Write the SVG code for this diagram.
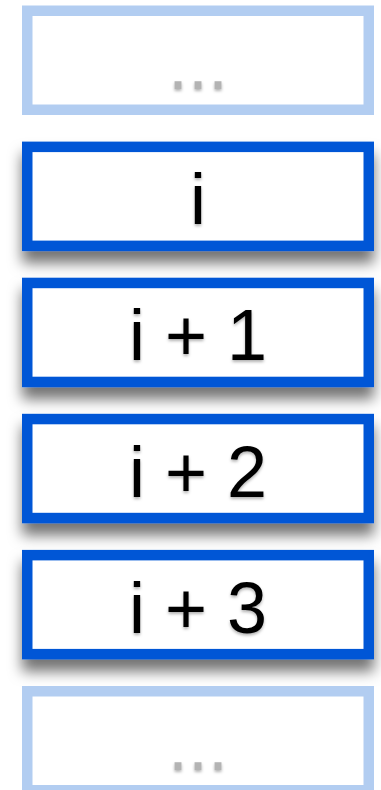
<svg xmlns="http://www.w3.org/2000/svg" width="381" height="790" viewBox="0 0 381 790">
  <defs>
    <filter id="boxShadow" x="-20%" y="-30%" width="140%" height="180%">
      <feDropShadow dx="0" dy="12" stdDeviation="7" flood-color="#000" flood-opacity="0.55"/>
    </filter>
    <filter id="textShadow" x="-20%" y="-20%" width="140%" height="160%">
      <feDropShadow dx="0" dy="2" stdDeviation="1.5" flood-color="#000" flood-opacity="0.3"/>
    </filter>
  </defs>
  <style>
    .blue { fill: #ffffff; stroke: #0057d6; stroke-width: 10.5; }
    .light { fill: #ffffff; stroke: #b2cdf1; stroke-width: 10.5; }
    .label { font-family: "Liberation Sans", Arial, sans-serif; font-size: 72px; fill: #000; text-anchor: middle; }
    .dots { font-family: "Liberation Sans", Arial, sans-serif; font-size: 72px; fill: #b3b3b3; text-anchor: middle; }
  </style>
  <g id="connectors"></g>
  <g id="node-top">
    <rect class="light" x="27.25" y="10.75" width="341.5" height="99"/>
    <text class="dots" x="198" y="89" filter="url(#textShadow)">...</text>
  </g>
  <g id="node-i" filter="url(#boxShadow)">
    <rect class="blue" x="27.25" y="146.85" width="341.5" height="99"/>
  </g>
  <text class="label" x="198" y="224.3" filter="url(#textShadow)">i</text>
  <g id="node-i1" filter="url(#boxShadow)">
    <rect class="blue" x="27.25" y="282.95" width="341.5" height="99"/>
  </g>
  <text class="label" x="198" y="360.4" filter="url(#textShadow)">i + 1</text>
  <g id="node-i2" filter="url(#boxShadow)">
    <rect class="blue" x="27.25" y="419.05" width="341.5" height="99"/>
  </g>
  <text class="label" x="198" y="496.5" filter="url(#textShadow)">i + 2</text>
  <g id="node-i3" filter="url(#boxShadow)">
    <rect class="blue" x="27.25" y="555.15" width="341.5" height="99"/>
  </g>
  <text class="label" x="198" y="632.6" filter="url(#textShadow)">i + 3</text>
  <g id="node-bottom">
    <rect class="light" x="27.25" y="691.25" width="341.5" height="99"/>
    <text class="dots" x="198" y="769.5" filter="url(#textShadow)">...</text>
  </g>
</svg>
